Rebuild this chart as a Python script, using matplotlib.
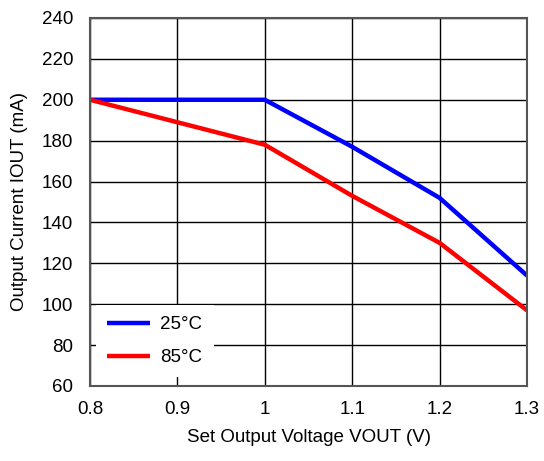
import matplotlib
matplotlib.use("Agg")
import matplotlib.pyplot as plt

plt.rcParams['font.family'] = ['Liberation Sans', 'DejaVu Sans']

vout = [0.8, 1.0, 1.1, 1.2, 1.3]
iout_25 = [200, 200, 177, 152, 114]
iout_85 = [200, 178, 153, 130, 97]
x_ticks = [0.8, 0.9, 1.0, 1.1, 1.2, 1.3]
x_tick_labels = ["0.8", "0.9", "1", "1.1", "1.2", "1.3"]
y_ticks = [60, 80, 100, 120, 140, 160, 180, 200, 220, 240]

fig = plt.figure(figsize=(5.44, 4.61), dpi=100)
ax = fig.add_axes([0.1654, 0.1627, 0.8034, 0.7983])

ax.plot(vout, iout_25, color='#0000ff', lw=3.2, label='25°C', solid_capstyle='butt')
ax.plot(vout, iout_85, color='#ff0000', lw=3.2, label='85°C', solid_capstyle='butt')

ax.set_xlim(0.8, 1.3)
ax.set_ylim(60, 240)
ax.set_xticks(x_ticks)
ax.set_xticklabels(x_tick_labels)
ax.set_yticks(y_ticks)
ax.grid(True, color='black', lw=1.0)
ax.set_axisbelow(True)
ax.tick_params(length=0, labelsize=13.5)
ax.tick_params(axis='x', pad=11)
ax.tick_params(axis='y', pad=12)
for s in ax.spines.values():
    s.set_color('#555555')
    s.set_linewidth(1.5)

ax.set_xlabel('Set Output Voltage VOUT (V)', fontsize=13.5, labelpad=8)
ax.set_ylabel('Output Current IOUT (mA)', fontsize=13.5, labelpad=10)

leg = ax.legend(loc='lower left', bbox_to_anchor=(0.0, 0.008), frameon=True, fontsize=13.5,
                handlelength=2.3, handletextpad=0.55, labelspacing=0.85, borderaxespad=0.5)
leg.get_frame().set_edgecolor('none')
leg.get_frame().set_facecolor('white')
leg.get_frame().set_alpha(1.0)
leg.get_frame().set_boxstyle('square', pad=0.2)

fig.savefig('out.png', dpi=100)
